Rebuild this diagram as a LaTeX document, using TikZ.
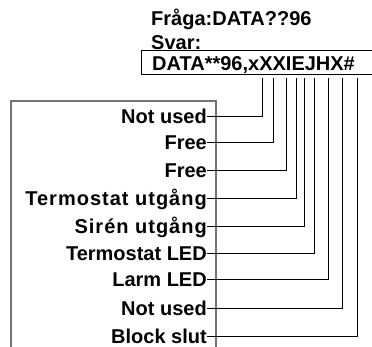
\documentclass[tikz,border=0pt]{standalone}
\usepackage{fontspec}
\setmainfont{Liberation Sans}
\begin{document}
\begin{tikzpicture}[x=1pt,y=-1pt,
    T/.style={font=\bfseries\fontsize{20}{22}\selectfont, inner sep=0pt},
    L/.style={T, anchor=east, text height=18pt, text depth=4pt},
    W/.style={draw=black, line width=0.7pt}]
  \useasboundingbox (0,0) rectangle (372,346);

  % Fråga och svar
  \node[T, anchor=base west] (fraga) at (151,25) {Fråga:DATA??96};
  \node[T, anchor=base west] (svar) at (151,49) {Svar:};
  \draw[line width=0.6pt] (141,50) rectangle (380,74);
  \node[T, anchor=base west] (data) at (152,70) {DATA**96,xXXIEJHX\#};

  % Ram
  \draw[black!55, line width=1.1pt] (11,350) |- (216,101) -- (216,350);

  % Etiketter och ledningar
  \foreach \i/\y/\tx/\txt in {1/116/262.7/Not used, 2/142.3/273.3/Free,
      3/170.7/286.7/Free, 4/198.3/296/{\addfontfeature{LetterSpace=5}Termostat utgång},
      5/226/304.7/{\addfontfeature{LetterSpace=5}Sirén utgång}, 6/253.3/314.7/Termostat LED,
      7/279/328.7/Larm LED, 8/308.3/342/Not used, 9/336/357.7/Block slut} {
    \node[L] (l\i) at (207,\y) {\txt};
    \coordinate (t\i) at (\tx,78);
    \draw[W] (l\i.east) -| (t\i);
  }
\end{tikzpicture}
\end{document}
